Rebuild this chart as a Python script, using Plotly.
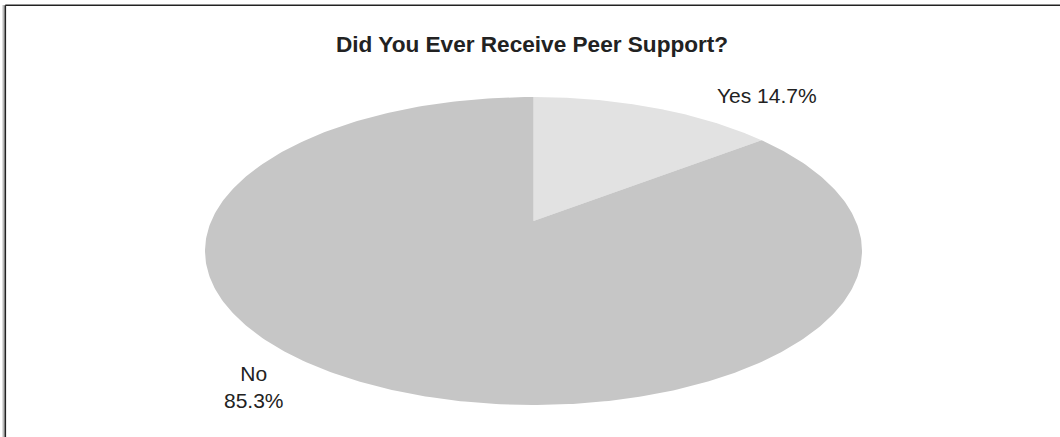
import numpy as np
import plotly.graph_objects as go

# Survey answers
labels = ["Yes", "No"]
shares = [14.7, 85.3]
colors = ["#e2e2e2", "#c6c6c6"]

W, H = 1060, 437
# Ellipse outline (pixel space) and pie apex offset (fraction of the vertical radius)
CX, CY, RX, RY = 533.5, 251.0, 328.5, 154.0
APEX_UP = 0.195


def to_px(u, v):
    return CX + RX * np.asarray(u), CY - RY * np.asarray(v)


def ray_hit(theta):
    """Where a ray from the apex (clockwise angle from 12 o'clock) meets the rim."""
    d = np.array([np.sin(theta), np.cos(theta)])
    p0 = np.array([0.0, APEX_UP])
    b = p0 @ d
    t = -b + np.sqrt(b * b - p0 @ p0 + 1.0)
    p = p0 + t * d
    return np.arctan2(p[0], p[1]) % (2 * np.pi)


fig = go.Figure()

cum = np.cumsum([0.0] + shares) / sum(shares) * 2 * np.pi
rim = [ray_hit(a) if 0 < a < 2 * np.pi else a for a in cum]

for lab, val, col, a0, a1 in zip(labels, shares, colors, rim[:-1], rim[1:]):
    phi = np.linspace(a0, a1, 400)
    u = np.concatenate([[0.0], np.sin(phi), [0.0]])
    v = np.concatenate([[APEX_UP], np.cos(phi), [APEX_UP]])
    x, y = to_px(u, v)
    fig.add_trace(go.Scatter(
        x=x, y=y, mode="lines", fill="toself", fillcolor=col,
        line=dict(width=0, color=col), name=lab, hoverinfo="name",
        showlegend=False,
    ))

# Slice labels
label_pos = {"Yes": (767, 95, "{l} {v}%"), "No": (254, 387, "{l}<br>{v}%")}
for lab, val in zip(labels, shares):
    x, y, fmt = label_pos[lab]
    fig.add_annotation(
        x=x, y=y, xref="x", yref="y", showarrow=False,
        text=fmt.format(l=lab, v=val), align="center",
        font=dict(family="Liberation Sans, Arial, sans-serif", size=21, color="#222222"),
        xanchor="center", yanchor="middle",
    )

fig.add_annotation(
    x=532, y=44, xref="x", yref="y", showarrow=False,
    text="<b>Did You Ever Receive Peer Support?</b>",
    font=dict(family="Liberation Sans, Arial, sans-serif", size=22.6, color="#222222"),
    xanchor="center", yanchor="middle",
)

# Frame lines
fig.add_shape(type="line", x0=3.5, x1=3.5, y0=5, y1=H, xref="x", yref="y",
              line=dict(color="#bbbbbb", width=2))
fig.add_shape(type="line", x0=5.3, x1=W, y0=5.3, y1=5.3, xref="x", yref="y",
              line=dict(color="#222222", width=1.6))
fig.add_shape(type="line", x0=5.3, x1=5.3, y0=5.3, y1=H, xref="x", yref="y",
              line=dict(color="#222222", width=1.6))

fig.update_layout(
    width=W, height=H,
    margin=dict(l=0, r=0, t=0, b=0),
    paper_bgcolor="white", plot_bgcolor="white",
    xaxis=dict(range=[0, W], visible=False, fixedrange=True),
    yaxis=dict(range=[H, 0], visible=False, fixedrange=True),
)

fig.write_html("out.html")
